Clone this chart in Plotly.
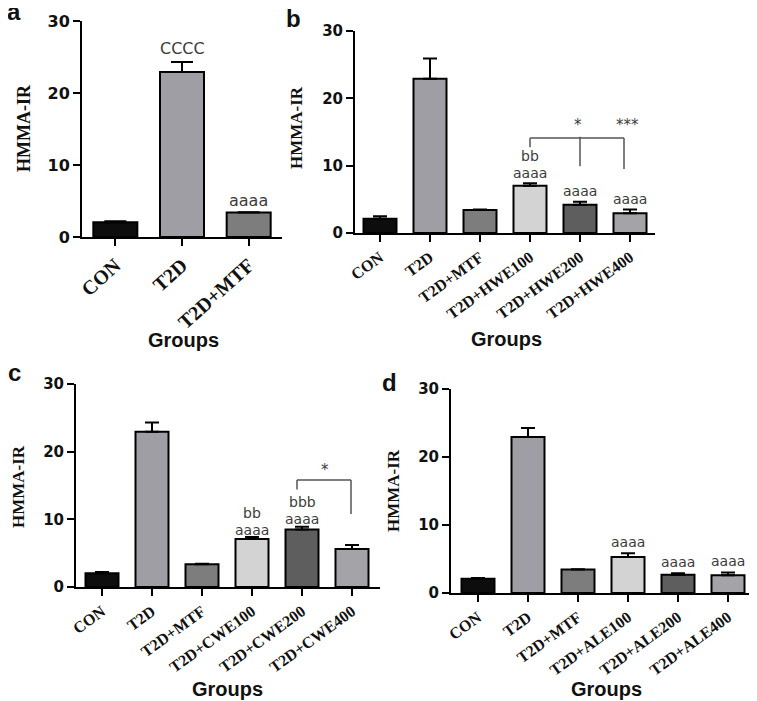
import plotly.graph_objects as go

# ---------------- data ----------------
cats_a = ["CON", "T2D", "T2D+MTF"]
vals_a = [2.05, 22.9, 3.4]
err_a = [0.15, 1.4, 0.05]

cats_b = ["CON", "T2D", "T2D+MTF", "T2D+HWE100", "T2D+HWE200", "T2D+HWE400"]
vals_b = [2.1, 22.9, 3.4, 7.0, 4.2, 2.95]
err_b = [0.4, 3.0, 0.1, 0.4, 0.45, 0.55]

cats_c = ["CON", "T2D", "T2D+MTF", "T2D+CWE100", "T2D+CWE200", "T2D+CWE400"]
vals_c = [2.05, 22.95, 3.37, 7.1, 8.5, 5.6]
err_c = [0.15, 1.35, 0.05, 0.3, 0.4, 0.6]

cats_d = ["CON", "T2D", "T2D+MTF", "T2D+ALE100", "T2D+ALE200", "T2D+ALE400"]
vals_d = [2.1, 22.95, 3.45, 5.3, 2.7, 2.6]
err_d = [0.1, 1.3, 0.05, 0.55, 0.2, 0.4]

y_ticks = [0, 10, 20, 30]

# significance letters: (category index, text, y)
sig_a = [(1, "CCCC", 26.2), (2, "aaaa", 5.1)]
sig_b = [(3, "bb", 11.5), (3, "aaaa", 8.9), (4, "aaaa", 6.2), (5, "aaaa", 5.1)]
sig_c = [(3, "bb", 10.9), (3, "aaaa", 8.4), (4, "bbb", 12.6), (4, "aaaa", 10.0)]
sig_d = [(3, "aaaa", 7.5), (4, "aaaa", 4.6), (5, "aaaa", 4.7)]

bar_colors = ["#0d0d0d", "#9e9ea4", "#7d7d7d", "#d3d3d3", "#5e5e5e", "#a4a4a8"]

OFF = 8  # page body margin
W, H = 757 - OFF, 701 - OFF

# panel geometry in screen pixels: (x0, x1, ytop, ybottom)
panels = {
    "a": dict(cats=cats_a, vals=vals_a, err=err_a, sig=sig_a, px=(82, 282, 21, 237),
              xr=[-0.5, 2.5], tickfont=20, angle=-42, ytf=16, cap=11, sf=16),
    "b": dict(cats=cats_b, vals=vals_b, err=err_b, sig=sig_b, px=(355, 655, 31, 233),
              xr=[-0.5, 5.5], tickfont=16, angle=-36, ytf=15, cap=7, sf=14),
    "c": dict(cats=cats_c, vals=vals_c, err=err_c, sig=sig_c, px=(76, 380, 384, 587),
              xr=[-0.52, 5.56], tickfont=16, angle=-36, ytf=15, cap=7, sf=14),
    "d": dict(cats=cats_d, vals=vals_d, err=err_d, sig=sig_d, px=(451, 755, 389, 593),
              xr=[-0.54, 5.54], tickfont=16, angle=-36, ytf=15, cap=7, sf=14),
}

fig = go.Figure()
layout = dict(width=W, height=H, margin=dict(l=0, r=0, t=0, b=0),
              plot_bgcolor="white", paper_bgcolor="white", showlegend=False)
annotations = []
shapes = []


def fx(x):
    return (x - OFF) / W


def fy(y):
    return 1 - (y - OFF) / H


for i, (key, p) in enumerate(panels.items()):
    n = i + 1
    xa = "x" if n == 1 else f"x{n}"
    ya = "y" if n == 1 else f"y{n}"
    x0, x1, yt, yb = p["px"]
    fig.add_trace(go.Bar(
        x=list(range(len(p["cats"]))), y=p["vals"], xaxis=xa, yaxis=ya,
        marker=dict(color=bar_colors[:len(p["cats"])], line=dict(color="black", width=2)),
        width=0.66,
        error_y=dict(type="data", array=p["err"], arrayminus=[0] * len(p["err"]),
                     symmetric=False, color="black", thickness=2, width=p["cap"]),
        hoverinfo="skip",
    ))
    xkey = "xaxis" if n == 1 else f"xaxis{n}"
    ykey = "yaxis" if n == 1 else f"yaxis{n}"
    layout[xkey] = dict(
        domain=[fx(x0), fx(x1)], anchor=ya, range=p["xr"],
        tickmode="array", tickvals=list(range(len(p["cats"]))), ticktext=p["cats"],
        tickangle=p["angle"], ticks="outside", ticklen=7, tickwidth=2, tickcolor="black",
        showline=True, linecolor="black", linewidth=2, showgrid=False, zeroline=False,
        tickfont=dict(family="Liberation Serif", size=p["tickfont"], color="#111111",
                      weight="bold"),
        automargin=False, fixedrange=True,
    )
    layout[ykey] = dict(
        domain=[fy(yb), fy(yt)], anchor=xa, range=[0, 30],
        tickmode="array", tickvals=y_ticks, ticks="outside", ticklen=7, tickwidth=2,
        tickcolor="black", showline=True, linecolor="black", linewidth=2,
        showgrid=False, zeroline=False,
        tickfont=dict(family="DejaVu Sans", size=p["ytf"], color="#111111", weight="bold"),
        automargin=False, fixedrange=True,
    )
    for (ci, txt, yv) in p["sig"]:
        annotations.append(dict(x=ci, y=yv, xref=xa, yref=ya, text=txt, showarrow=False,
                                font=dict(family="DejaVu Sans", size=p["sf"], color="#3c3c3c"),
                                xanchor="center", yanchor="middle"))

# bracket lines (panel b and c)
brk_b = [(3, 14.1, 4.88, 14.1), (3, 14.1, 3, 12.75), (4, 14.3, 4, 9.9), (4.88, 14.1, 4.88, 9.5)]
for (a0, b0, a1, b1) in brk_b:
    shapes.append(dict(type="line", xref="x2", yref="y2", x0=a0, y0=b0, x1=a1, y1=b1,
                       line=dict(color="#555555", width=1.5)))
brk_c = [(3.9, 15.8, 4.98, 15.8), (3.9, 15.8, 3.9, 14.4), (4.98, 15.8, 4.98, 10.8)]
for (a0, b0, a1, b1) in brk_c:
    shapes.append(dict(type="line", xref="x3", yref="y3", x0=a0, y0=b0, x1=a1, y1=b1,
                       line=dict(color="#555555", width=1.5)))
star_font = dict(family="DejaVu Sans", size=15, color="#3c3c3c")
annotations.append(dict(x=3.95, y=16.0, xref="x2", yref="y2", text="*", showarrow=False,
                        font=star_font))
annotations.append(dict(x=4.95, y=16.0, xref="x2", yref="y2", text="***", showarrow=False,
                        font=star_font))
annotations.append(dict(x=4.45, y=17.3, xref="x3", yref="y3", text="*", showarrow=False,
                        font=star_font))


def px_ann(x, y, text, size, family, angle=0, bold=True):
    annotations.append(dict(x=fx(x), y=fy(y), xref="paper", yref="paper", text=text,
                            showarrow=False, textangle=angle, xanchor="center",
                            yanchor="middle",
                            font=dict(family=family, size=size, color="#111111",
                                      weight="bold" if bold else "normal")))


# panel letters
px_ann(14, 12, "a", 24, "Liberation Sans")
px_ann(293, 18, "b", 24, "Liberation Sans")
px_ann(14, 372, "c", 24, "Liberation Sans")
px_ann(389, 382, "d", 24, "Liberation Sans")
# y titles
px_ann(24, 128, "HMMA-IR", 18, "Liberation Serif", angle=-90)
px_ann(296, 128, "HMMA-IR", 17, "Liberation Serif", angle=-90)
px_ann(19, 487, "HMMA-IR", 17, "Liberation Serif", angle=-90)
px_ann(393, 490, "HMMA-IR", 17, "Liberation Serif", angle=-90)
# x titles
px_ann(183, 340, "Groups", 20, "Liberation Sans")
px_ann(506, 339, "Groups", 20, "Liberation Sans")
px_ann(227, 689, "Groups", 20, "Liberation Sans")
px_ann(606, 689, "Groups", 20, "Liberation Sans")

layout["annotations"] = annotations
layout["shapes"] = shapes
fig.update_layout(**layout)
fig.write_html("out.html")
